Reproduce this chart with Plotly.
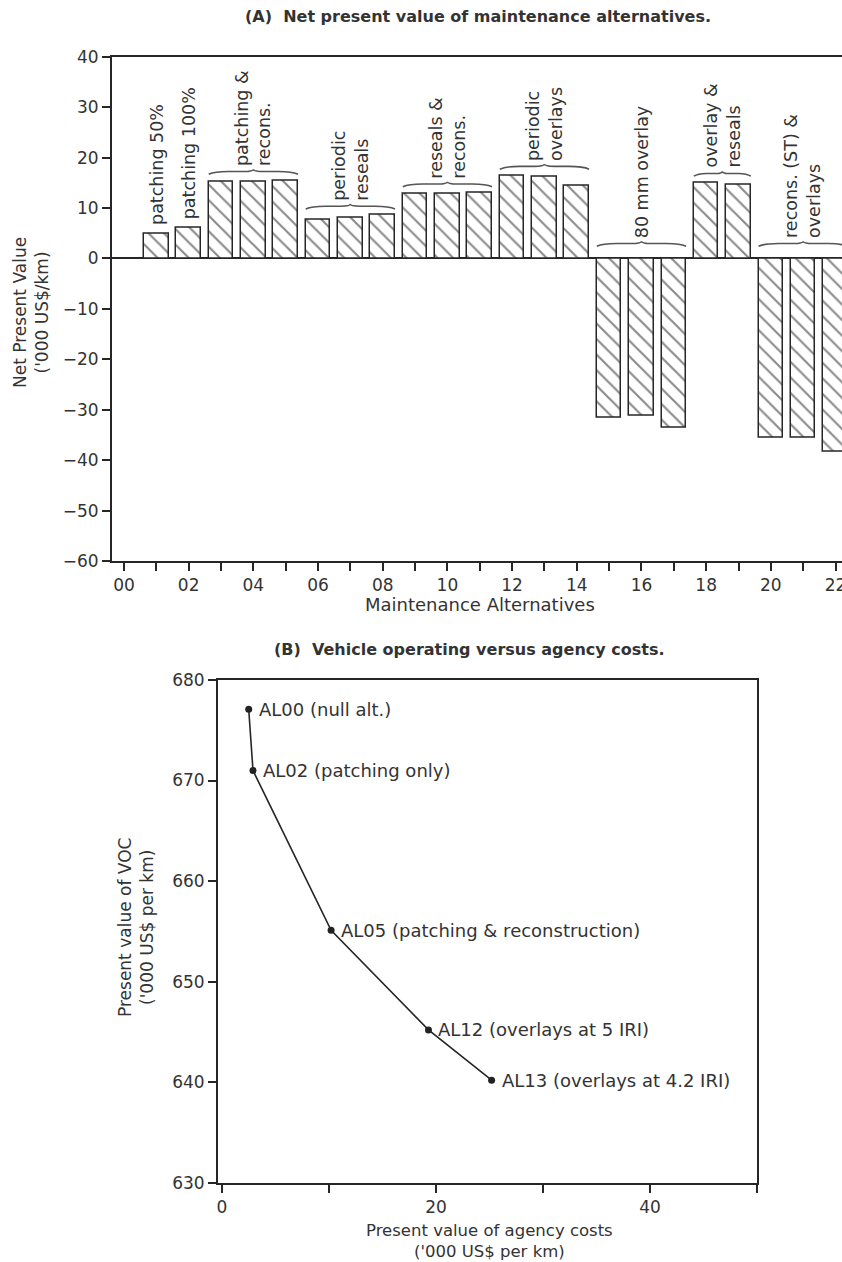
import plotly.graph_objects as go

# ---------------- Data (A) ----------------
alternatives = list(range(1, 23))
npv = [5.0, 6.1, 15.2, 15.2, 15.5, 7.7, 8.1, 8.6, 12.8, 12.8, 13.0,
       16.5, 16.2, 14.5, -31.5, -31.2, -33.5, 15.1, 14.7, -35.5, -35.5, -38.3]
x_tick_vals = list(range(0, 23))
x_tick_text = [f"{v:02d}" if v % 2 == 0 else "" for v in x_tick_vals]

group_labels = ["patching 50%", "patching 100%", "patching &<br>recons.",
                "periodic<br>reseals", "reseals &<br>recons.", "periodic<br>overlays",
                "80 mm overlay", "overlay &<br>reseals", "recons. (ST) &<br>overlays"]
group_first = [1, 2, 3, 6, 9, 12, 15, 18, 20]
group_last = [1, 2, 5, 8, 11, 14, 17, 19, 22]

# ---------------- Data (B) ----------------
agency_cost = [2.5, 2.9, 10.2, 19.3, 25.2]
voc = [677.1, 671.0, 655.1, 645.2, 640.2]
point_labels = ["AL00 (null alt.)", "AL02 (patching only)",
                "AL05 (patching &amp; reconstruction)", "AL12 (overlays at 5 IRI)",
                "AL13 (overlays at 4.2 IRI)"]

FONT = "DejaVu Sans"
TXT = "#333333"
LINE = "#262626"
W, H = 842, 1262
BAR_W = 0.76

fig = go.Figure()

fig.add_trace(go.Bar(
    x=alternatives, y=npv, width=BAR_W,
    marker=dict(color="white", line=dict(color=LINE, width=1.5),
                pattern=dict(shape="\\", fgcolor="#1a1a1a", bgcolor="white",
                             size=11, solidity=0.2)),
    xaxis="x", yaxis="y", showlegend=False, hoverinfo="x+y"))

shapes = []
annotations = []
val = dict(zip(alternatives, npv))
for lab, g0, g1 in zip(group_labels, group_first, group_last):
    top = max(max(val[a] for a in range(g0, g1 + 1)), 0)
    xc = (g0 + g1) / 2
    if g1 > g0:
        off = 1.2 if top > 0 else 2.4
        y0 = top + off
        h = 1.0
        x0 = g0 - BAR_W / 2
        x1 = g1 + BAR_W / 2
        w = x1 - x0
        q = w * 0.22
        path = (f"M {x0},{y0} C {x0 + q*0.3},{y0 + h*0.55} {x0 + q*0.6},{y0 + h*0.55} {x0 + q},{y0 + h*0.55} "
                f"L {xc - q*0.5},{y0 + h*0.55} C {xc - q*0.15},{y0 + h*0.55} {xc},{y0 + h*0.7} {xc},{y0 + h} "
                f"C {xc},{y0 + h*0.7} {xc + q*0.15},{y0 + h*0.55} {xc + q*0.5},{y0 + h*0.55} "
                f"L {x1 - q},{y0 + h*0.55} C {x1 - q*0.6},{y0 + h*0.55} {x1 - q*0.3},{y0 + h*0.55} {x1},{y0}")
        shapes.append(dict(type="path", path=path, xref="x", yref="y",
                           line=dict(color="#555", width=1.6)))
        ybase = y0 + h + 0.3
    else:
        ybase = top + 1.2
    annotations.append(dict(x=xc, y=ybase, xref="x", yref="y", text=lab,
                            textangle=-90, showarrow=False, xanchor="center",
                            yanchor="bottom", align="left",
                            font=dict(family=FONT, size=17.5, color=TXT)))

# ---------------- (B) line ----------------
fig.add_trace(go.Scatter(
    x=agency_cost, y=voc, mode="lines+markers",
    line=dict(color=LINE, width=1.6),
    marker=dict(color="#222", size=7),
    xaxis="x2", yaxis="y2", showlegend=False))

for xv, yv, lab in zip(agency_cost, voc, point_labels):
    annotations.append(dict(x=xv, y=yv, xref="x2", yref="y2", text=lab,
                            showarrow=False, xanchor="left", yanchor="middle",
                            xshift=8, font=dict(family=FONT, size=18, color=TXT)))

def py(px):
    return (H - px) / H

def pxx(px):
    return px / W

# titles and axis titles
annotations += [
    dict(x=pxx(478), y=py(17), xref="paper", yref="paper", showarrow=False,
         text="<b>(A)  Net present value of maintenance alternatives.</b>",
         font=dict(family=FONT, size=16, color=TXT), xanchor="center", yanchor="middle"),
    dict(x=pxx(469), y=py(649), xref="paper", yref="paper", showarrow=False,
         text="<b>(B)  Vehicle operating versus agency costs.</b>",
         font=dict(family=FONT, size=16, color=TXT), xanchor="center", yanchor="middle"),
    dict(x=pxx(31), y=py(313), xref="paper", yref="paper", showarrow=False,
         text="Net Present Value<br>('000 US$/km)", textangle=-90,
         font=dict(family=FONT, size=17, color=TXT), xanchor="center", yanchor="middle"),
    dict(x=pxx(480), y=py(604), xref="paper", yref="paper", showarrow=False,
         text="Maintenance Alternatives",
         font=dict(family=FONT, size=18, color=TXT), xanchor="center", yanchor="middle"),
    dict(x=pxx(136), y=py(928), xref="paper", yref="paper", showarrow=False,
         text="Present value of VOC<br>('000 US$ per km)", textangle=-90,
         font=dict(family=FONT, size=17, color=TXT), xanchor="center", yanchor="middle"),
    dict(x=pxx(489), y=py(1241), xref="paper", yref="paper", showarrow=False,
         text="Present value of agency costs<br>('000 US$ per km)",
         font=dict(family=FONT, size=16.5, color=TXT), xanchor="center", yanchor="middle"),
]

axis_common = dict(showgrid=False, showline=True, linecolor=LINE, linewidth=2,
                   ticks="outside", ticklen=8, tickwidth=1.6, tickcolor=LINE,
                   tickfont=dict(family=FONT, size=17, color=TXT), zeroline=False,
                   automargin=False, ticklabeloverflow="allow")

fig.update_layout(
    width=W, height=H, margin=dict(l=0, r=0, t=0, b=0, autoexpand=False),
    paper_bgcolor="white", plot_bgcolor="white",
    shapes=shapes, annotations=annotations, bargap=0,
    xaxis=dict(domain=[pxx(112), 1.0], range=[-0.37, 22.2],
               tickvals=x_tick_vals, ticktext=x_tick_text, mirror=True,
               anchor="y", **axis_common),
    yaxis=dict(domain=[py(561), py(56.7)], range=[-60, 40],
               tickvals=list(range(-60, 41, 10)), anchor="x",
               **{**axis_common, "zeroline": True},
               zerolinecolor=LINE, zerolinewidth=1.8),
    xaxis2=dict(domain=[pxx(218), pxx(757)], range=[-0.37, 50],
                tickvals=[0, 10, 20, 30, 40, 50], ticktext=["0", "", "20", "", "40", ""],
                mirror=True, anchor="y2", **axis_common),
    yaxis2=dict(domain=[py(1182.7), py(680)], range=[630, 680],
                tickvals=[630, 640, 650, 660, 670, 680], mirror=True,
                anchor="x2", **axis_common),
)

fig.write_html("out.html")
